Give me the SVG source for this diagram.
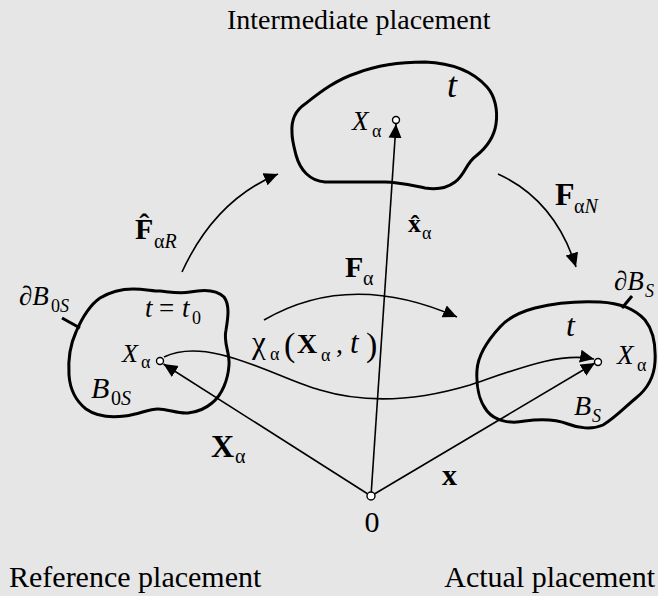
<svg xmlns="http://www.w3.org/2000/svg" width="658" height="596" viewBox="0 0 658 596">
<defs>
<style>
text{font-family:"Liberation Serif","Times New Roman",serif;fill:#000}
.it{font-style:italic}
.bf{font-weight:bold}
.rm{font-weight:normal;font-style:normal}
.blob{fill:none;stroke:#000;stroke-width:3;stroke-linejoin:round}
.tick{stroke:#000;stroke-width:3}
.con{fill:none;stroke:#000;stroke-width:1.6}
.pt{fill:#fff;stroke:#000;stroke-width:1.4}
</style>
<marker id="ah" viewBox="0 -7 14 14" refX="14" refY="0" markerWidth="14" markerHeight="14" markerUnits="userSpaceOnUse" orient="auto">
<path d="M0,-6.5 L14,0 L0,6.5 Z" fill="#000"/>
</marker>
</defs>
<rect width="658" height="596" fill="#e6e6e6"/>

<text x="227" y="29" font-size="28">Intermediate placement</text>
<text x="9" y="587" font-size="30">Reference placement</text>
<text x="655" y="587" font-size="30" text-anchor="end">Actual placement</text>

<g id="intermediate">
<path class="blob" d="M292,133 C291,120 296,110 305,104 C318,94 335,80 357,73 C375,66 400,62 425,62 C450,63 472,70 487,87 C495,96 498,110 496,124 C494,138 486,148 476,156 C466,163 465,175 455,182 C447,188 437,190 425,188 C410,185 398,182 385,182 L325,182 C310,181 300,170 296,155 C294,147 292,140 292,133 Z"/>
<text class="it" x="447" y="97" font-size="36">t</text>
<text><tspan class="it" x="352" y="130" font-size="27">X</tspan><tspan x="372" y="137" font-size="18">α</tspan></text>
</g>

<g id="reference">
<path class="blob" d="M100,298 C110,292 120,289 133,289 C145,289 152,291 160,291 C170,292 180,294 190,292 C200,290 215,288 224,297 C230,305 228,318 226,330 C223,343 230,352 229,365 C228,380 222,395 212,403 C205,409 198,412 188,413 C178,414 168,409 158,409 C148,409 140,414 125,416 C110,418 96,416 86,409 C76,401 70,390 69,375 C68,360 70,345 76,332 C82,318 90,305 100,298 Z"/>
<line class="tick" x1="62" y1="318" x2="80" y2="328"/>
<text><tspan class="it" x="19" y="305" font-size="27">∂B</tspan><tspan x="51" y="312" font-size="18">0</tspan><tspan class="it" font-size="18">S</tspan></text>
<text font-size="27"><tspan class="it" x="145" y="317">t</tspan><tspan x="159" y="317">=</tspan><tspan class="it" x="182" y="317">t</tspan><tspan x="192" y="324" font-size="18">0</tspan></text>
<text><tspan class="it" x="122" y="362" font-size="26">X</tspan><tspan x="141" y="368" font-size="18">α</tspan></text>
<text><tspan class="it" x="91" y="398" font-size="30">B</tspan><tspan x="111" y="405" font-size="20">0</tspan><tspan class="it" font-size="20">S</tspan></text>
</g>

<g id="actual">
<path class="blob" d="M500,327 C508,318 520,312 535,308 C555,303 580,301 600,302 C620,303 636,310 645,320 C653,330 656,345 655,362 C654,378 646,390 636,398 C625,407 615,418 603,425 C592,430 578,428 568,424 C555,419 540,419 525,421 C510,424 495,421 487,411 C479,401 476,385 477,370 C478,355 488,340 500,327 Z"/>
<line class="tick" x1="622" y1="308" x2="632" y2="296"/>
<text class="it"><tspan x="614" y="290" font-size="27">∂B</tspan><tspan x="645" y="297" font-size="18">S</tspan></text>
<text class="it" x="566" y="336" font-size="32">t</text>
<text><tspan class="it" x="617" y="364" font-size="27">X</tspan><tspan x="637" y="371" font-size="18">α</tspan></text>
<text class="it"><tspan x="574" y="415" font-size="28">B</tspan><tspan x="592" y="422" font-size="18">S</tspan></text>
</g>

<g id="connectors">
<path class="con" d="M182,272 Q215,200 278,174" marker-end="url(#ah)"/>
<path class="con" d="M264,320 Q350,270 457,317" marker-end="url(#ah)"/>
<path class="con" d="M498,174 Q555,200 576,267" marker-end="url(#ah)"/>
<path class="con" d="M164,357 C210,335 280,380 320,390 C370,405 420,400 470,385 C520,368 560,352 594,359" marker-end="url(#ah)"/>
<line class="con" x1="371" y1="496" x2="163.5" y2="364" marker-end="url(#ah)"/>
<line class="con" x1="371" y1="496" x2="595" y2="363" marker-end="url(#ah)"/>
<line class="con" x1="371" y1="496" x2="396" y2="124" marker-end="url(#ah)"/>
</g>

<g id="points">
<circle class="pt" cx="396" cy="120" r="3.5"/>
<circle class="pt" cx="160" cy="361" r="3.5"/>
<circle class="pt" cx="598" cy="362" r="3.5"/>
</g>

<g id="origin">
<circle class="pt" cx="371" cy="496" r="4"/>
<text x="372" y="532" font-size="30" text-anchor="middle">0</text>
</g>

<g id="labels">
<text font-size="30"><tspan class="bf" x="135" y="239">F&#x302;</tspan><tspan class="rm" x="154" y="248" font-size="20">α</tspan><tspan class="it" font-size="20">R</tspan></text>
<text font-size="30"><tspan class="bf" x="345" y="277">F</tspan><tspan x="363" y="285" font-size="20">α</tspan></text>
<text font-size="26"><tspan class="bf" x="408" y="232">x&#x302;</tspan><tspan x="422" y="239" font-size="18">α</tspan></text>
<text font-size="32"><tspan class="bf" x="555" y="205">F</tspan><tspan x="574" y="213" font-size="20">α</tspan><tspan class="it" font-size="20">N</tspan></text>
<text font-size="28"><tspan x="252" y="353" font-size="31">χ</tspan><tspan x="270" y="360" font-size="18">α</tspan><tspan x="284" y="356" font-size="34">(</tspan><tspan class="bf" x="297" y="353">X</tspan><tspan x="321" y="361" font-size="18">α</tspan><tspan x="336" y="353">,</tspan><tspan class="it" x="350" y="353" font-size="31">t</tspan><tspan x="366" y="356" font-size="34">)</tspan></text>
<text font-size="32"><tspan class="bf" x="211" y="457">X</tspan><tspan x="235" y="463" font-size="20">α</tspan></text>
<text class="bf" x="442" y="485" font-size="30">x</text>
</g>
</svg>
